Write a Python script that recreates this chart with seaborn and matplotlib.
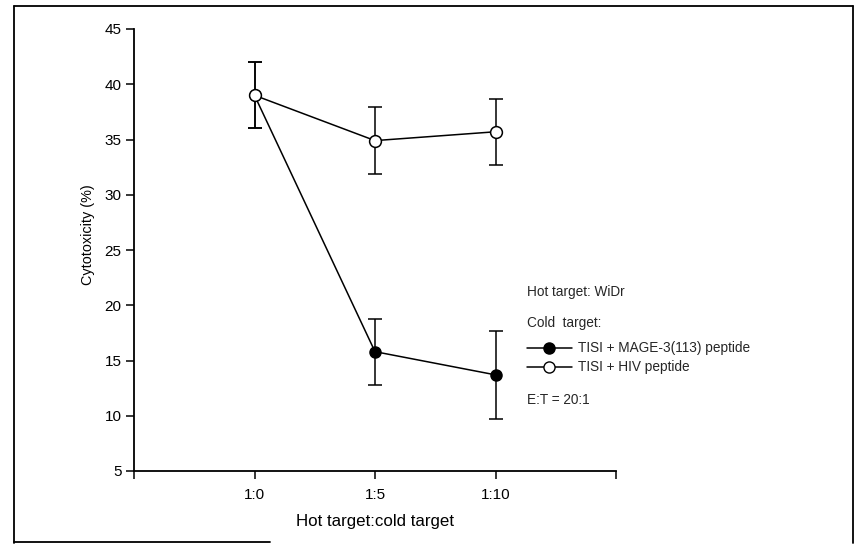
import matplotlib
matplotlib.use("Agg")
import matplotlib.pyplot as plt
from matplotlib.lines import Line2D
import seaborn as sns
import pandas as pd
import numpy as np

# ---- data ----
ratios = ["1:0", "1:5", "1:10"]
mage_mean = [39.0, 15.8, 13.7]
mage_err = [3.0, 3.0, 4.0]
hiv_mean = [39.0, 34.9, 35.7]
hiv_err = [3.0, 3.0, 3.0]
y_ticks = [5, 10, 15, 20, 25, 30, 35, 40, 45]

sns.set_theme(style="ticks")
plt.rcParams["font.family"] = ["Liberation Sans", "DejaVu Sans"]
FS = 9.8
TFS = 11
XLFS = 12.2
YLFS = 10.4

W, H = 856, 544
fig = plt.figure(figsize=(W / 100, H / 100), dpi=100)
fig.patch.set_facecolor("white")
ax = fig.add_axes([134 / W, 1 - 471 / H, (616 - 134) / W, (471 - 29) / H])
ax.set_facecolor("white")

pos = np.arange(len(ratios))
df = pd.DataFrame({
    "pos": np.concatenate([pos, pos]),
    "value": mage_mean + hiv_mean,
    "err": mage_err + hiv_err,
    "series": ["TISI + MAGE-3(113) peptide"] * 3 + ["TISI + HIV peptide"] * 3,
})

lw = 1.1
# error bars
for s in df["series"].unique():
    d = df[df["series"] == s]
    ax.errorbar(d["pos"], d["value"], yerr=d["err"], fmt="none", ecolor="black",
                elinewidth=lw, capsize=4.8, capthick=lw, zorder=2)

# lines + markers
d1 = df[df["series"] == "TISI + MAGE-3(113) peptide"]
d2 = df[df["series"] == "TISI + HIV peptide"]
sns.lineplot(data=d1, x="pos", y="value", ax=ax, color="black", lw=lw,
             marker="o", markersize=8, markerfacecolor="black",
             markeredgecolor="black", markeredgewidth=1.0, zorder=3,
             legend=False, errorbar=None)
sns.lineplot(data=d2, x="pos", y="value", ax=ax, color="black", lw=lw,
             marker="o", markersize=8.5, markerfacecolor="white",
             markeredgecolor="black", markeredgewidth=1.1, zorder=4,
             legend=False, errorbar=None)

ax.set_xlim(-1, 3)
ax.set_ylim(5, 45)
ax.set_xticks([-1, 0, 1, 2, 3])
ax.set_xticklabels(["", *ratios, ""], fontsize=TFS)
ax.set_yticks(y_ticks)
ax.set_yticklabels([str(t) for t in y_ticks], fontsize=TFS)
ax.tick_params(axis="both", direction="out", length=6, width=1.1, color="black",
               labelcolor="black", pad=3)
ax.tick_params(axis="x", pad=6)
for sp in ["top", "right"]:
    ax.spines[sp].set_visible(False)
for sp in ["left", "bottom"]:
    ax.spines[sp].set_linewidth(1.3)
    ax.spines[sp].set_color("black")

ax.set_xlabel("Hot target:cold target", fontsize=XLFS, color="black", labelpad=9)
ax.set_ylabel("")
fig.text(88 / W, 1 - 235 / H, "Cytotoxicity (%)", rotation=90, fontsize=YLFS,
         ha="center", va="center", color="black")

# annotation / legend block
fig.text(527 / W, 1 - 292 / H, "Hot target: WiDr", fontsize=FS, va="center", ha="left")
fig.text(527 / W, 1 - 323 / H, "Cold  target:", fontsize=FS, va="center", ha="left")
fig.text(527 / W, 1 - 400 / H, "E:T = 20:1", fontsize=FS, va="center", ha="left")

leg_items = [("TISI + MAGE-3(113) peptide", "black", 348),
             ("TISI + HIV peptide", "white", 367)]
for label, fc, yy in leg_items:
    y = 1 - yy / H
    fig.add_artist(Line2D([527 / W, 572 / W], [y, y], color="black", lw=lw))
    fig.add_artist(Line2D([549 / W], [y], marker="o", markersize=8,
                          markerfacecolor=fc, markeredgecolor="black",
                          markeredgewidth=1.0, lw=0))
    fig.text(578 / W, y, label, fontsize=FS, va="center", ha="left")

# scanned frame around the figure
frame_lw = 1.3
fig.add_artist(Line2D([14 / W, 14 / W], [1 - 6 / H, 1 - 543 / H], color="black", lw=frame_lw))
fig.add_artist(Line2D([14 / W, 853 / W], [1 - 6 / H, 1 - 6 / H], color="black", lw=frame_lw))
fig.add_artist(Line2D([853 / W, 853 / W], [1 - 6 / H, 1 - 543 / H], color="black", lw=frame_lw))
fig.add_artist(Line2D([14 / W, 270 / W], [1 - 542 / H, 1 - 542 / H], color="black", lw=frame_lw))

fig.savefig("out.png", dpi=100, facecolor="white")
